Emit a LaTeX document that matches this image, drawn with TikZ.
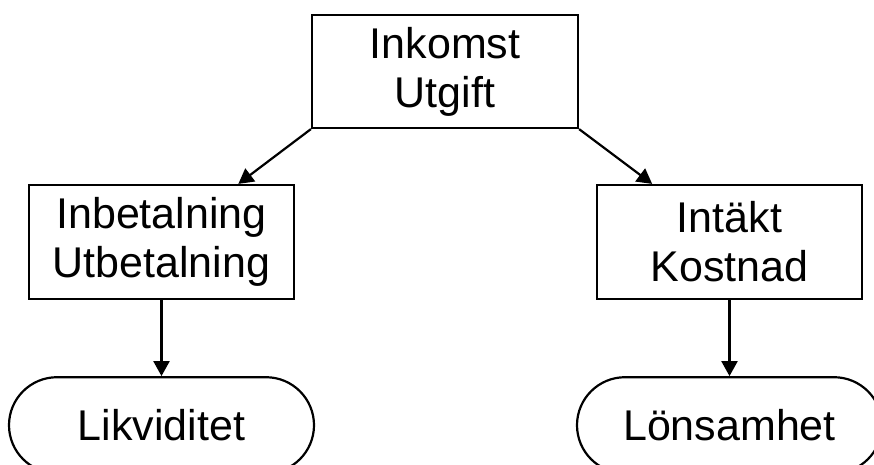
\documentclass[tikz,border=0pt]{standalone}
\usepackage{fontspec}
\setmainfont{Liberation Sans}
\usetikzlibrary{positioning, arrows.meta}

\begin{document}
\begin{tikzpicture}[
        x=1pt, y=1pt,
        every node/.style={
            draw, align=center,
            font=\fontsize{43}{49}\selectfont,
            line width=2.2pt, inner sep=0pt
        },
        box/.style={minimum width=265pt, minimum height=114pt},
        pill/.style={minimum width=305pt, minimum height=96pt, rounded corners=48pt}, % half height gives round ends
        arrow/.style={line width=2.2pt, -{Triangle[length=15pt, width=16pt]}}
      ]
        \useasboundingbox (0,0) rectangle (874,-464);
        \node[box, minimum width=266pt, minimum height=113pt] (inkomst) at (445,-71.5) {Inkomst\\Utgift};
        \node[box] (inbet) at (161.5,-242) {Inbetalning\\Utbetalning};
        \node[box] (intakt) at (729.5,-242) {Intäkt\\Kostnad};
        \node[pill, below=76pt of inbet] (likv) {Likviditet};
        \node[pill, below=76pt of intakt] (lons) {Lönsamhet};
        \draw[arrow] (inkomst.south west) -- (inbet);
        \draw[arrow] (inkomst.south east) -- (intakt);
        \draw[arrow] (inbet) -- (likv);
        \draw[arrow] (intakt) -- (lons);
      \end{tikzpicture}
\end{document}
